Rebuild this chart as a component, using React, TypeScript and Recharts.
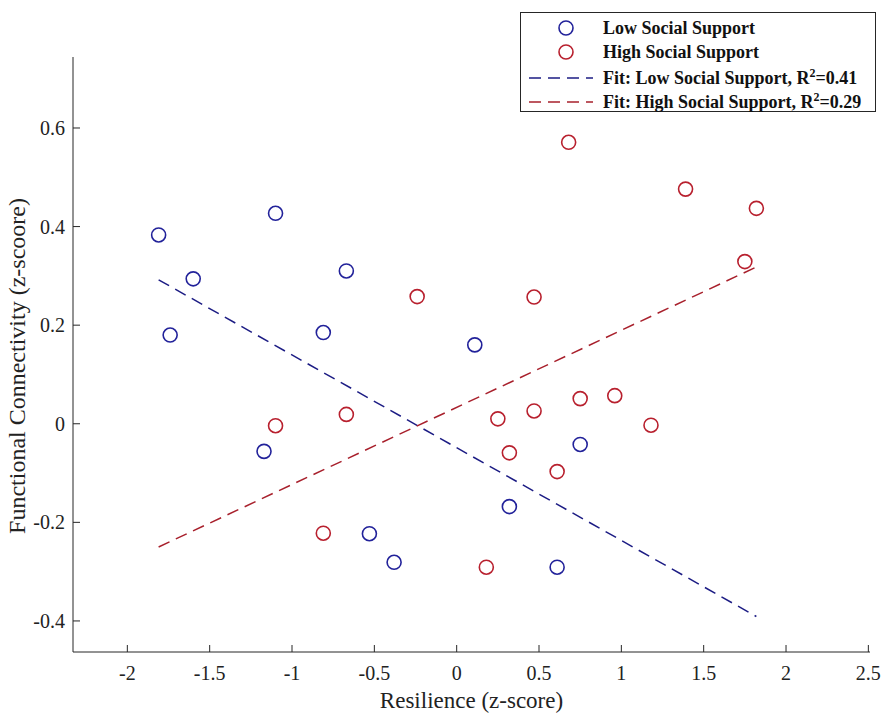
import {
  Label,
  Legend,
  Scatter,
  ScatterChart,
  XAxis,
  YAxis,
} from "recharts";

const lowX = [-1.81, -1.6, -1.74, -1.1, -0.67, -0.81, 0.11, -1.17, 0.75, 0.32, -0.53, -0.38, 0.61];
const lowY = [0.383, 0.294, 0.18, 0.427, 0.31, 0.185, 0.16, -0.056, -0.042, -0.168, -0.223, -0.281, -0.291];
const highX = [0.68, 1.39, 1.82, 1.75, -0.24, 0.47, -1.1, -0.67, 0.25, 0.47, 0.75, 0.96, 1.18, 0.32, 0.61, -0.81, 0.18];
const highY = [0.571, 0.476, 0.437, 0.329, 0.258, 0.257, -0.004, 0.019, 0.01, 0.026, 0.051, 0.057, -0.003, -0.059, -0.097, -0.222, -0.291];

const fitX = [-1.81, 1.82];
const lowFitY = [0.292, -0.391];
const highFitY = [-0.25, 0.318];

const xTicks = [-2, -1.5, -1, -0.5, 0, 0.5, 1, 1.5, 2, 2.5];
const yTicks = [-0.4, -0.2, 0, 0.2, 0.4, 0.6];

const BLUE = "#22229a";
const RED = "#b8202e";
const BLUE_FIT = "#1c1c84";
const RED_FIT = "#a8202c";
const AXIS = "#262626";
const FONT = "'Liberation Serif', 'Times New Roman', serif";

const zip = (xs: number[], ys: number[]) => xs.map((x, i) => ({ x, y: ys[i] }));

const lowData = zip(lowX, lowY);
const highData = zip(highX, highY);
const lowFit = zip(fitX, lowFitY);
const highFit = zip(fitX, highFitY);

function ring(color: string) {
  return (props: any) => (
    <circle cx={props.cx} cy={props.cy} r={7} fill="none" stroke={color} strokeWidth={1.6} />
  );
}

const noDot = () => <g />;

function XTick({ x, y, payload }: any) {
  return (
    <g>
      <line x1={x} x2={x} y1={y} y2={y - 7} stroke={AXIS} />
      <text
        x={x}
        y={y + 21}
        textAnchor="middle"
        dominantBaseline="central"
        fontFamily={FONT}
        fontSize={20}
        fill="#222"
      >
        {payload.value}
      </text>
    </g>
  );
}

function YTick({ x, y, payload }: any) {
  return (
    <g>
      <line x1={x} x2={x + 7} y1={y} y2={y} stroke={AXIS} />
      <text
        x={x - 8}
        y={y}
        textAnchor="end"
        dominantBaseline="central"
        fontFamily={FONT}
        fontSize={20}
        fill="#222"
      >
        {payload.value}
      </text>
    </g>
  );
}

const sup = { fontSize: 12, position: "relative" as const, top: -7, verticalAlign: "baseline" };

function LegendBox() {
  const rows = [
    { kind: "dot", color: BLUE, text: <>Low Social Support</>, y: 15 },
    { kind: "dot", color: RED, text: <>High Social Support</>, y: 39 },
    {
      kind: "line",
      color: BLUE_FIT,
      text: (
        <>
          Fit: Low Social Support, R<span style={sup}>2</span>=0.41
        </>
      ),
      y: 65,
    },
    {
      kind: "line",
      color: RED_FIT,
      text: (
        <>
          Fit: High Social Support, R<span style={sup}>2</span>=0.29
        </>
      ),
      y: 89,
    },
  ];
  return (
    <div
      style={{
        position: "relative",
        width: 356,
        height: 100,
        boxSizing: "border-box",
        border: `1px solid ${AXIS}`,
        background: "#fff",
        fontFamily: FONT,
        fontWeight: "bold",
        fontSize: 18,
        color: "#111",
      }}
    >
      {rows.map((r, i) => (
        <div key={i}>
          <svg
            width={76}
            height={20}
            style={{ position: "absolute", left: 0, top: r.y - 10 }}
          >
            {r.kind === "dot" ? (
              <circle cx={45} cy={10} r={7} fill="none" stroke={r.color} strokeWidth={1.6} />
            ) : (
              <line
                x1={8}
                x2={72}
                y1={10}
                y2={10}
                stroke={r.color}
                strokeWidth={1.5}
                strokeDasharray="12 7"
              />
            )}
          </svg>
          <div
            style={{
              position: "absolute",
              left: 82,
              top: r.y - 12,
              height: 24,
              lineHeight: "24px",
              whiteSpace: "nowrap",
            }}
          >
            {r.text}
          </div>
        </div>
      ))}
    </div>
  );
}

export default function App() {
  return (
    <div>
      <style>{"body{margin:0;background:#fff}"}</style>
      <ScatterChart
        width={886}
        height={719}
        margin={{ top: 57, right: 16, bottom: 0, left: 0 }}
      >
        <XAxis
          type="number"
          dataKey="x"
          domain={[-2.33, 2.51]}
          ticks={xTicks}
          height={67}
          stroke={AXIS}
          tickSize={0}
          tickMargin={0}
          tick={XTick}
          allowDataOverflow
        >
          <Label
            content={({ viewBox }: any) => (
              <text
                x={viewBox.x + viewBox.width / 2}
                y={viewBox.y + 48}
                textAnchor="middle"
                dominantBaseline="central"
                fontFamily={FONT}
                fontSize={23}
                fill="#222"
              >
                Resilience (z-score)
              </text>
            )}
          />
        </XAxis>
        <YAxis
          type="number"
          dataKey="y"
          domain={[-0.463, 0.744]}
          ticks={yTicks}
          width={73}
          stroke={AXIS}
          tickSize={0}
          tickMargin={0}
          tick={YTick}
          allowDataOverflow
        >
          <Label
            content={() => (
              <text
                x={17}
                y={366}
                transform="rotate(-90 17 366)"
                textAnchor="middle"
                dominantBaseline="central"
                fontFamily={FONT}
                fontSize={24}
                fill="#222"
              >
                Functional Connectivity (z-scoore)
              </text>
            )}
          />
        </YAxis>
        <Legend
          layout="vertical"
          align="center"
          verticalAlign="middle"
          wrapperStyle={{ top: 12, left: 520, width: 356 }}
          content={() => <LegendBox />}
        />
        <Scatter
          name="Fit: Low Social Support"
          data={lowFit}
          line={{ stroke: BLUE_FIT, strokeWidth: 1.5, strokeDasharray: "12 7" }}
          shape={noDot}
          isAnimationActive={false}
        />
        <Scatter
          name="Fit: High Social Support"
          data={highFit}
          line={{ stroke: RED_FIT, strokeWidth: 1.5, strokeDasharray: "12 7" }}
          shape={noDot}
          isAnimationActive={false}
        />
        <Scatter
          name="Low Social Support"
          data={lowData}
          shape={ring(BLUE)}
          isAnimationActive={false}
        />
        <Scatter
          name="High Social Support"
          data={highData}
          shape={ring(RED)}
          isAnimationActive={false}
        />
      </ScatterChart>
    </div>
  );
}
